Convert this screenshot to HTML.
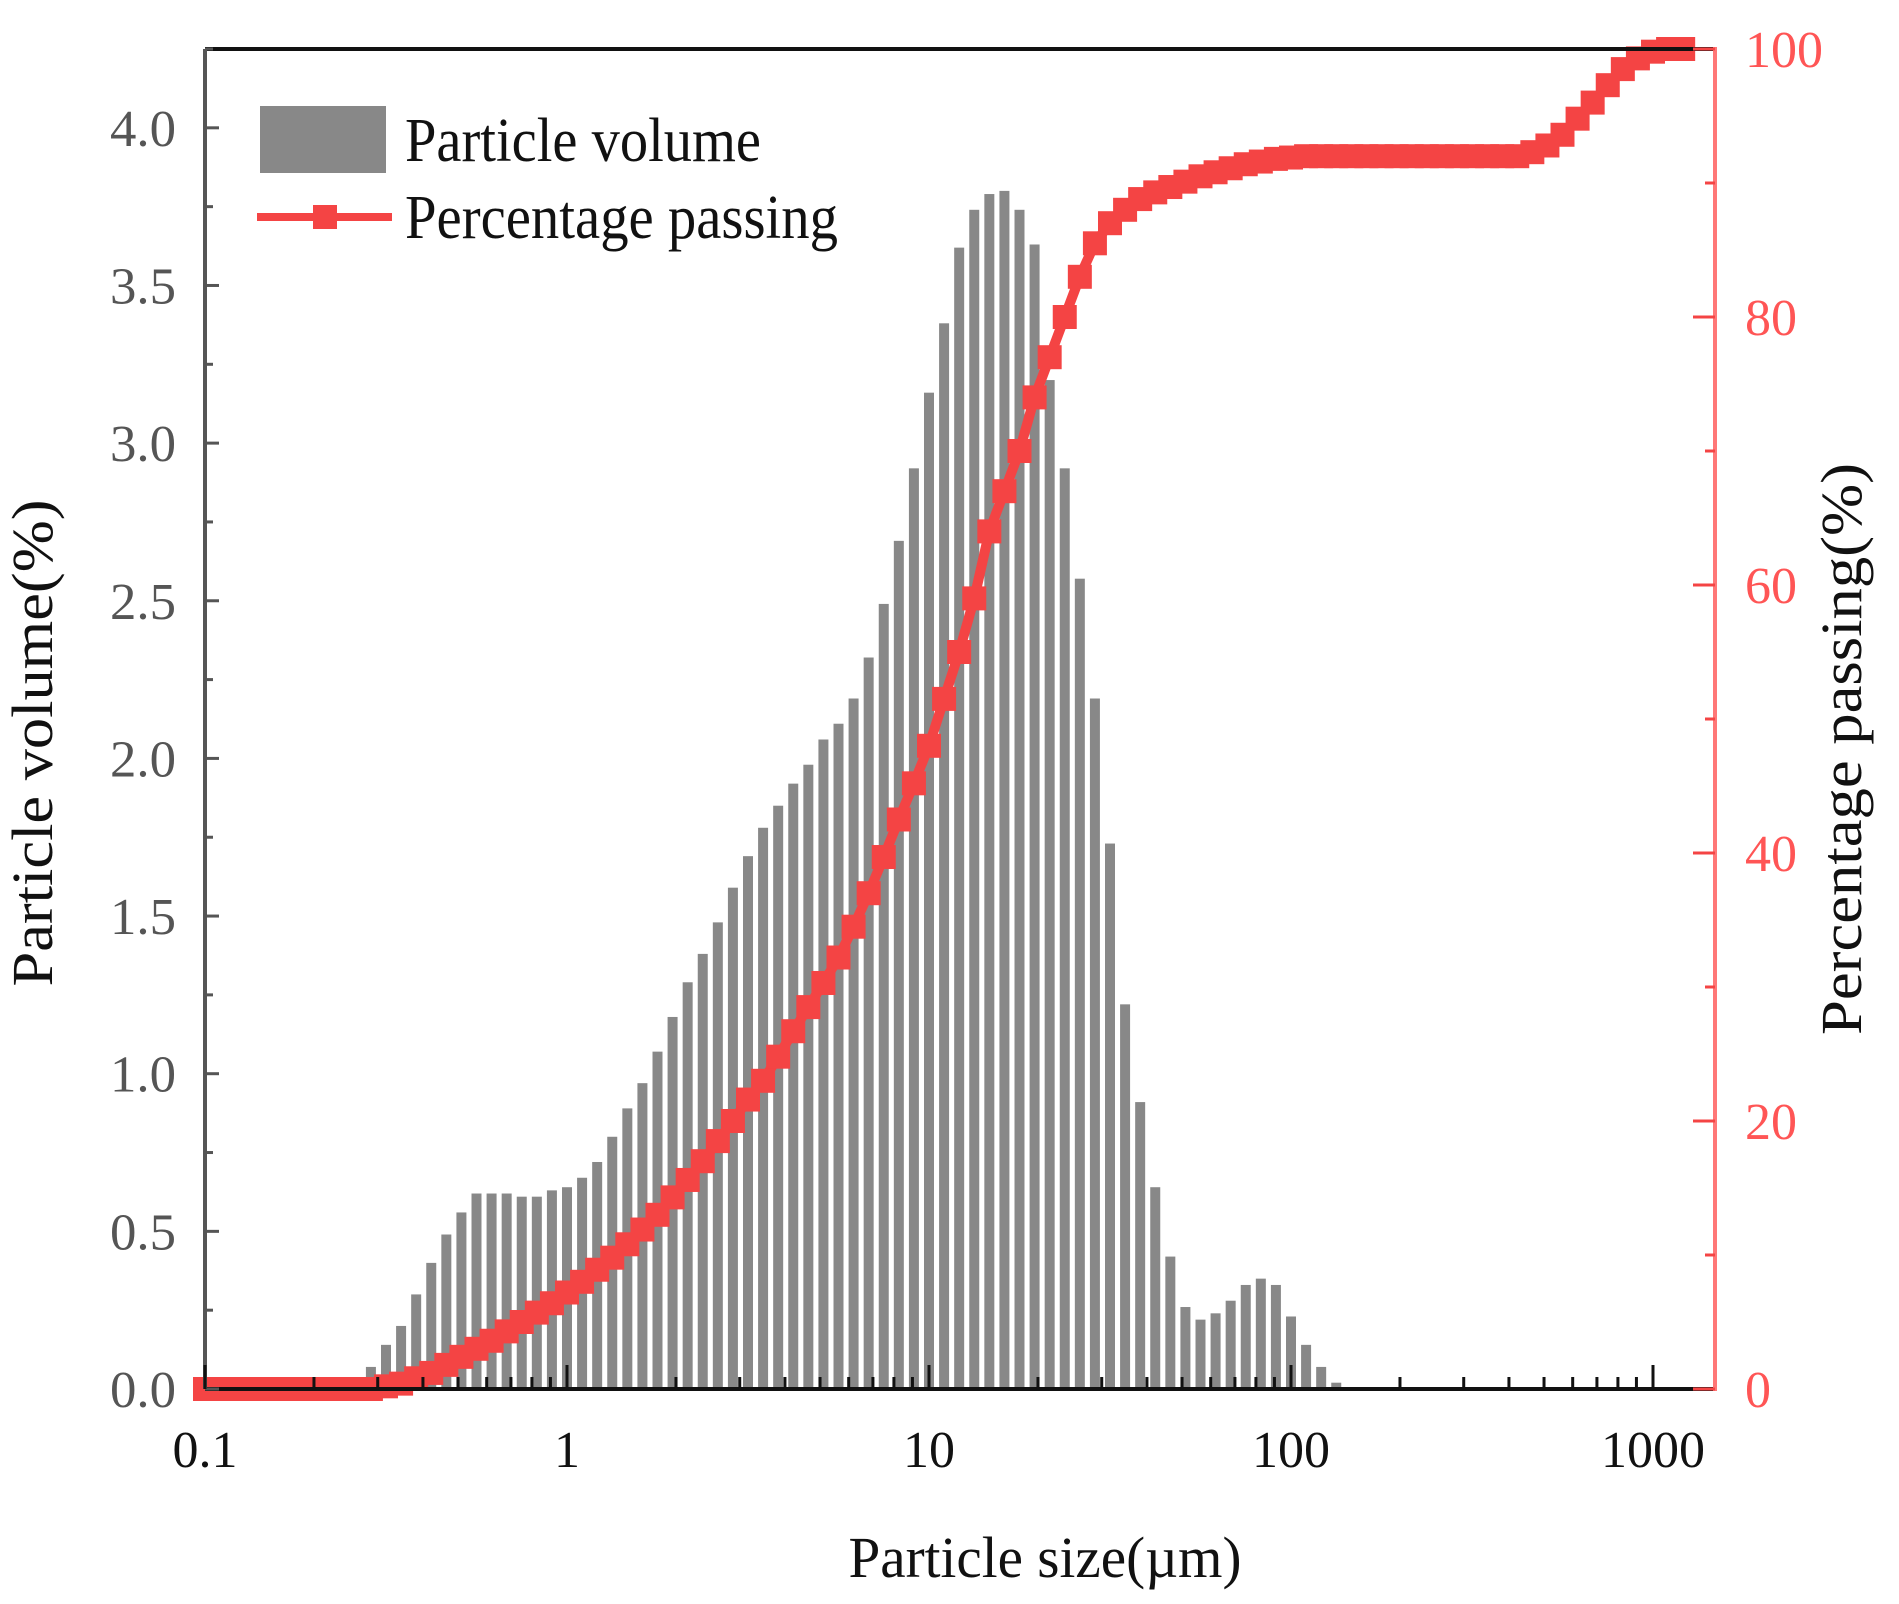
<!DOCTYPE html>
<html><head><meta charset="utf-8"><style>
html,body{margin:0;padding:0;background:#fff;}
svg{display:block;font-family:"Liberation Serif","DejaVu Serif",serif;}
</style></head><body>
<svg id="chart" width="1899" height="1604" viewBox="0 0 1899 1604" xmlns="http://www.w3.org/2000/svg">
<g id="bars"></g>
<g id="line"></g>
<g id="axes"></g>
<g>
  <rect x="260" y="106" width="126" height="67" fill="#888"/>
  <text x="405" y="161" font-size="62" textLength="356" lengthAdjust="spacingAndGlyphs" fill="#111">Particle volume</text>
  <line x1="257" y1="217" x2="392" y2="217" stroke="#f44444" stroke-width="8"/>
  <rect x="313" y="205" width="24" height="24" fill="#f44444"/>
  <text x="405" y="238" font-size="62" textLength="433" lengthAdjust="spacingAndGlyphs" fill="#111">Percentage passing</text>
</g>
<text x="1045" y="1577" font-size="58" text-anchor="middle" textLength="393" lengthAdjust="spacingAndGlyphs" fill="#111">Particle size(µm)</text>
<text transform="translate(52,743) rotate(-90)" font-size="58" text-anchor="middle" textLength="487" lengthAdjust="spacingAndGlyphs" fill="#111">Particle volume(%)</text>
<text transform="translate(1861,749) rotate(-90)" font-size="58" text-anchor="middle" textLength="572" lengthAdjust="spacingAndGlyphs" fill="#111">Percentage passing(%)</text>
</svg>
<script>
// bar data: log10 positions start at index -14 with step 1/24 decade
const barStartIndex = -14;
const barVolumes = [0.03,0.07,0.14,0.2,0.3,0.4,0.49,0.56,0.62,0.62,0.62,0.61,0.61,0.63,0.64,
0.67,0.72,0.8,0.89,0.97,1.07,1.18,1.29,1.38,1.48,1.59,1.69,1.78,1.85,1.92,1.98,2.06,2.11,2.19,2.32,2.49,2.69,2.92,3.16,3.38,3.62,3.74,3.79,3.80,3.74,3.63,3.20,2.92,2.57,2.19,1.73,1.22,0.91,0.64,0.42,0.26,0.22,0.24,0.28,0.33,0.35,0.33,0.23,0.14,0.07,0.02];
// cumulative passing: index -24 (0.1 µm) to 76, step 1/24 decade
const passStartIndex = -24;
const passValues = [0,0,0,0,0,0,0,0,0,0,0,0,
0.2,0.4,0.8,1.2,1.8,2.4,3.0,3.6,4.3,5.0,5.7,6.4,
7.2,8.0,8.9,9.8,10.8,11.9,13.0,14.3,15.6,17.0,18.5,20.0,21.6,23.0,24.8,26.7,28.5,30.3,32.2,34.5,37.0,39.7,42.5,45.2,
48.0,51.5,55.0,59.0,64.0,67.0,70.0,74.0,77.0,80.0,83.0,85.5,87.0,88.0,88.8,89.3,89.7,90.1,90.5,90.8,91.1,91.4,91.6,91.8,91.9,
92,92,92,92,92,92,92,92,92,92,92,92,92,92,92,
92.3,92.8,93.6,94.8,96.0,97.3,98.5,99.3,99.8,100,100];
const leftTicks = ["0.0","0.5","1.0","1.5","2.0","2.5","3.0","3.5","4.0"];
const rightTicks = ["0","20","40","60","80","100"];
const xTicks = ["0.1","1","10","100","1000"];

const NS="http://www.w3.org/2000/svg";
const L=205,R=1715,T=49,B=1389;
const xLog0=-1, decPx=362;
function xs(lg){return L+(lg-xLog0)*decPx;}
function yl(v){return B-(v/4.25)*(B-T);}
function yr(v){return B-(v/100)*(B-T);}
function mk(tag,attrs,parent){const e=document.createElementNS(NS,tag);for(const k in attrs)e.setAttribute(k,attrs[k]);parent.appendChild(e);return e;}

const gb=document.getElementById('bars');
barVolumes.forEach((v,i)=>{
  const cx=xs((barStartIndex+i)/24);
  const r=mk('rect',{x:cx-5,y:yl(v),width:10,height:B-yl(v),fill:'#888'},gb);
  
  
});

const gl=document.getElementById('line');
let pts=[];
passValues.forEach((v,i)=>{const lg=(passStartIndex+i)/24;const x=Math.min(xs(lg),R);pts.push(x+','+yr(v));});
const pl=mk('polyline',{points:pts.join(' '),fill:'none',stroke:'#f44444','stroke-width':10,'stroke-linejoin':'round'},gl);


passValues.forEach((v,i)=>{
  const lg=(passStartIndex+i)/24;const x=Math.min(xs(lg),R-12);
  const m=mk('rect',{x:x-12,y:yr(v)-12,width:24,height:24,fill:'#f44444'},gl);
  
  
});

const ga=document.getElementById('axes');
mk('line',{x1:L,y1:T,x2:R,y2:T,stroke:'#111','stroke-width':4},ga);
mk('line',{x1:L,y1:B,x2:R,y2:B,stroke:'#111','stroke-width':4},ga);
mk('line',{x1:L,y1:T,x2:L,y2:B,stroke:'#555','stroke-width':4},ga);
mk('line',{x1:R,y1:T-2,x2:R,y2:B+2,stroke:'#f77','stroke-width':4},ga);
for(let k=0;k<=17;k++){const v=k*0.25;const y=yl(v);mk('line',{x1:L,y1:y,x2:L+(k%2?8:14),y2:y,stroke:'#555','stroke-width':3},ga);}
leftTicks.forEach((t,i)=>{const e=mk('text',{x:176,y:yl(i*0.5)+18,'font-size':52,'text-anchor':'end',fill:'#555',textLength:66,lengthAdjust:'spacingAndGlyphs'},ga);e.textContent=t;
  
  });
for(let k=0;k<=10;k++){const y=yr(k*10);mk('line',{x1:R,y1:y,x2:R-(k%2?10:22),y2:y,stroke:'#f44444','stroke-width':3},ga);}
rightTicks.forEach((t,i)=>{const e=mk('text',{x:1745,y:yr(i*20)+18,'font-size':52,fill:'#f55'},ga);e.textContent=t;
  
  });
for(let d=-1;d<=3;d++){for(let m=1;m<=9;m++){const lg=d+Math.log10(m);const x=xs(lg);if(x>R)continue;mk('line',{x1:x,y1:B,x2:x,y2:B-(m===1?24:12),stroke:'#111','stroke-width':3},ga);}}
xTicks.forEach((t,i)=>{const e=mk('text',{x:xs(i-1),y:1467,'font-size':52,'text-anchor':'middle',fill:'#111'},ga);e.textContent=t;
  
  });
</script>
</body></html>
